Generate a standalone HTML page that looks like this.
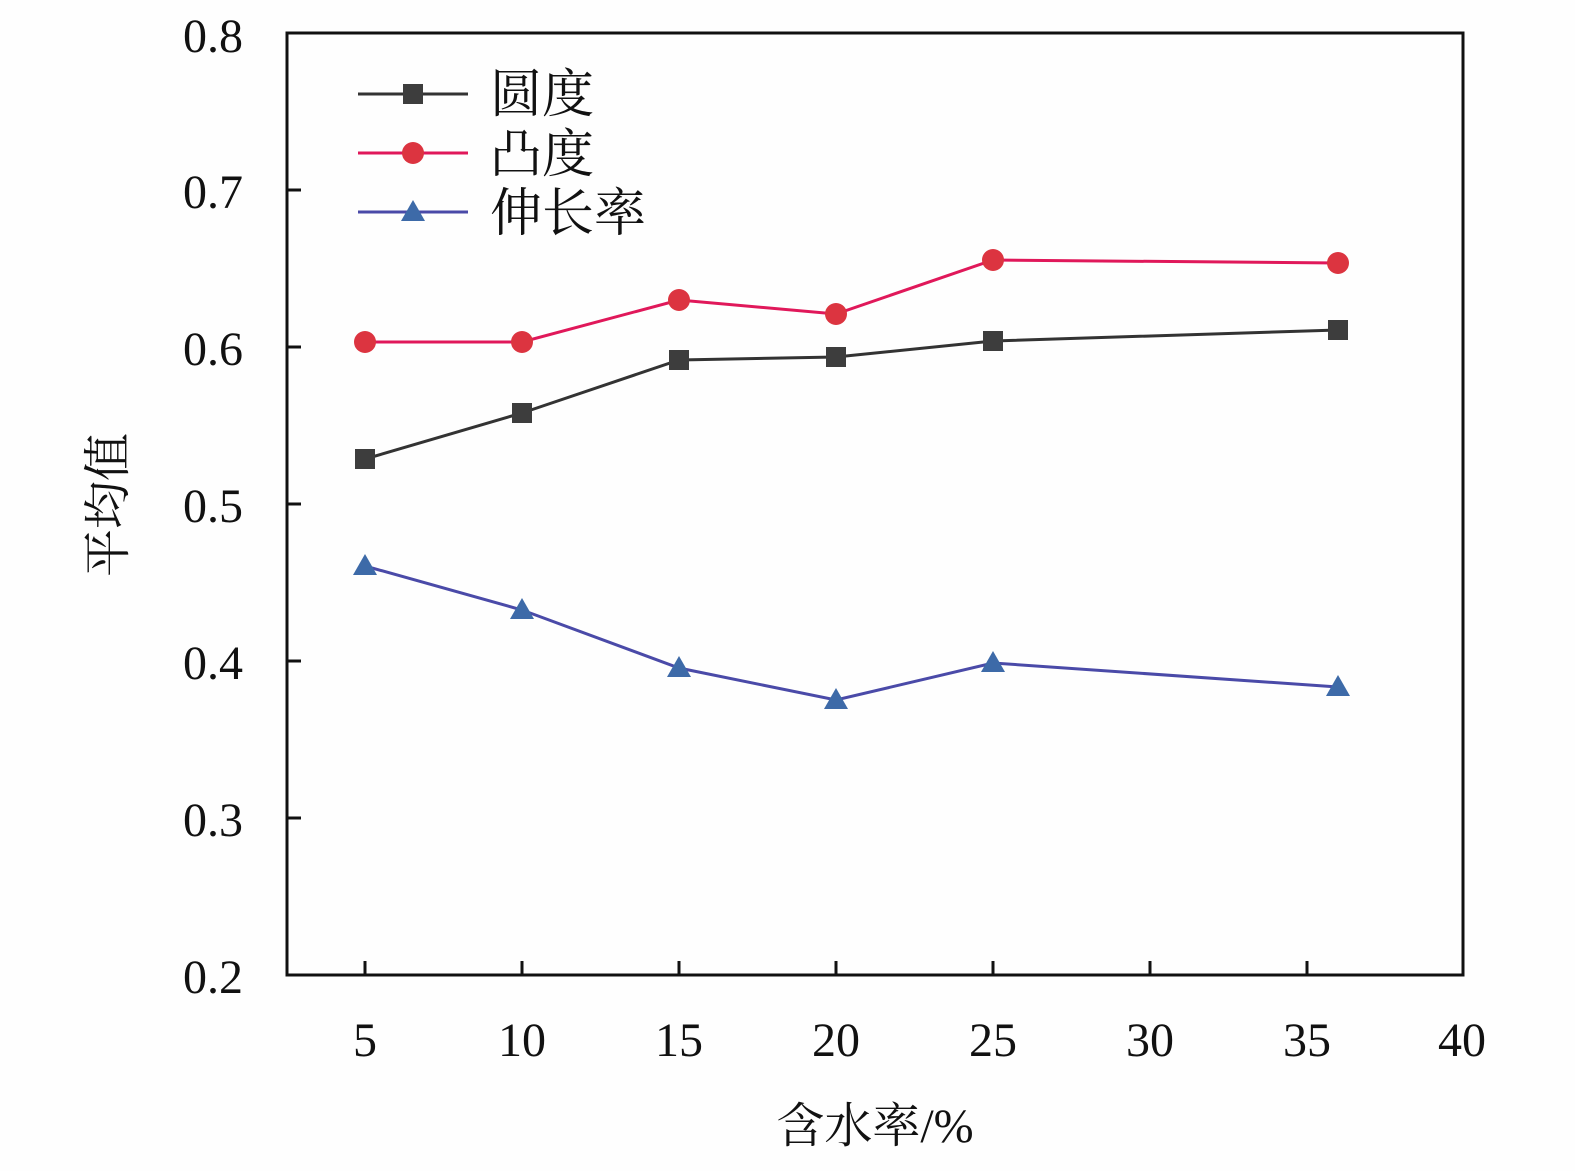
<!DOCTYPE html>
<html><head><meta charset="utf-8"><style>html,body{margin:0;padding:0;background:#fff}</style></head>
<body>
<svg width="1575" height="1171" xmlns="http://www.w3.org/2000/svg" font-family="'Liberation Serif','Noto Serif CJK SC',serif">
<rect width="1575" height="1171" fill="#fefefe"/>
<rect x="287" y="33" width="1176" height="942" fill="none" stroke="#111" stroke-width="3"/>
<g stroke="#111" stroke-width="3">
<line x1="287" y1="190" x2="301" y2="190"/><line x1="287" y1="347" x2="301" y2="347"/><line x1="287" y1="504" x2="301" y2="504"/><line x1="287" y1="661" x2="301" y2="661"/><line x1="287" y1="818" x2="301" y2="818"/>
<line x1="365" y1="975" x2="365" y2="961"/><line x1="522" y1="975" x2="522" y2="961"/><line x1="679" y1="975" x2="679" y2="961"/><line x1="836" y1="975" x2="836" y2="961"/><line x1="993" y1="975" x2="993" y2="961"/><line x1="1150" y1="975" x2="1150" y2="961"/><line x1="1307" y1="975" x2="1307" y2="961"/>
</g>
<g font-size="48" fill="#111" text-anchor="end">
<text x="243" y="52">0.8</text><text x="243" y="208">0.7</text><text x="243" y="365">0.6</text><text x="243" y="522">0.5</text><text x="243" y="679">0.4</text><text x="243" y="836">0.3</text><text x="243" y="993">0.2</text>
</g>
<g font-size="48" fill="#111" text-anchor="middle">
<text x="365" y="1056">5</text><text x="522" y="1056">10</text><text x="679" y="1056">15</text><text x="836" y="1056">20</text><text x="993" y="1056">25</text><text x="1150" y="1056">30</text><text x="1307" y="1056">35</text><text x="1462" y="1056">40</text>
<text x="875" y="1142">含水率/%</text>
<text transform="translate(124,505) rotate(-90)">平均值</text>
</g>
<polyline fill="none" stroke="#333" stroke-width="3" points="365,459 522,413 679,360 836,357 993,341 1338,330"/>
<polyline fill="none" stroke="#e0185a" stroke-width="3" points="365,342 522,342 679,300 836,314 993,260 1338,263"/>
<polyline fill="none" stroke="#4a4aa8" stroke-width="3" points="365,566 522,610 679,668 836,700 993,663 1338,687"/>
<g fill="#3d3d3d">
<rect x="355" y="449" width="20" height="20"/><rect x="512" y="403" width="20" height="20"/><rect x="669" y="350" width="20" height="20"/><rect x="826" y="347" width="20" height="20"/><rect x="983" y="331" width="20" height="20"/><rect x="1328" y="320" width="20" height="20"/>
</g>
<g fill="#dc3440">
<circle cx="365" cy="342" r="11"/><circle cx="522" cy="342" r="11"/><circle cx="679" cy="300" r="11"/><circle cx="836" cy="314" r="11"/><circle cx="993" cy="260" r="11"/><circle cx="1338" cy="263" r="11"/>
</g>
<g fill="#3d6aa8">
<polygon points="365,554 353,575 377,575"/><polygon points="522,598 510,619 534,619"/><polygon points="679,656 667,677 691,677"/><polygon points="836,688 824,709 848,709"/><polygon points="993,651 981,672 1005,672"/><polygon points="1338,675 1326,696 1350,696"/>
</g>
<line x1="358" y1="94" x2="468" y2="94" stroke="#333" stroke-width="3"/><rect x="403" y="84" width="20" height="20" fill="#3d3d3d"/>
<line x1="358" y1="153" x2="468" y2="153" stroke="#e0185a" stroke-width="3"/><circle cx="413" cy="153" r="11" fill="#dc3440"/>
<line x1="358" y1="212" x2="468" y2="212" stroke="#4a4aa8" stroke-width="3"/><polygon points="413,200 401,221 425,221" fill="#3d6aa8"/>
<g font-size="52" fill="#111">
<text x="490" y="112">圆度</text><text x="490" y="172">凸度</text><text x="490" y="231">伸长率</text>
</g>
</svg>
</body></html>
